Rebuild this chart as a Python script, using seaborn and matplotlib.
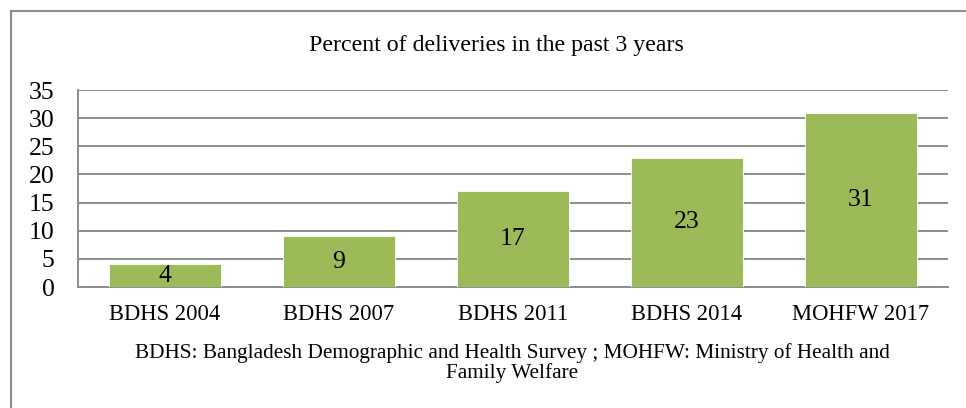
import matplotlib
matplotlib.use("Agg")
import matplotlib.pyplot as plt
import seaborn as sns
import pandas as pd
from matplotlib.patches import Rectangle

categories = ["BDHS 2004", "BDHS 2007", "BDHS 2011", "BDHS 2014", "MOHFW 2017"]
values = [4, 9, 17, 23, 31]
yticks = [0, 5, 10, 15, 20, 25, 30, 35]
title = "Percent of deliveries in the past 3 years"
footnote = ("BDHS: Bangladesh Demographic and Health Survey ; MOHFW: Ministry of Health and\n"
            "Family Welfare")

sns.set_theme(style="white")
plt.rcParams['font.family'] = ['Liberation Serif', 'DejaVu Serif']

W, H = 966, 408
fig = plt.figure(figsize=(W / 100, H / 100), dpi=100)
ax = fig.add_axes([78 / W, 1 - 287 / H, (948 - 78) / W, (287 - 90) / H])

df = pd.DataFrame({"cat": categories, "val": values})
sns.barplot(data=df, x="cat", y="val", ax=ax, color="#9BBB59", saturation=1,
            width=0.64, edgecolor="white", linewidth=0.6, zorder=3)

ax.set_xlim(-0.5, len(categories) - 0.5)
ax.set_ylim(0, 35)
ax.set_yticks(yticks)
ax.set_yticklabels([str(t) for t in yticks], fontsize=18.5, color="black")
ax.tick_params(axis="x", labelsize=16.3, colors="black", length=0, pad=12)
ax.tick_params(axis="y", length=0, pad=17)
ax.set_xlabel("")
ax.set_ylabel("")
ax.yaxis.grid(True, color="#8c8c8c", linewidth=1.4, zorder=0)
ax.set_axisbelow(True)
for s in ["top", "right"]:
    ax.spines[s].set_visible(False)
for s in ["left", "bottom"]:
    ax.spines[s].set_color("#8c8c8c")
    ax.spines[s].set_linewidth(1.4)

for i, v in enumerate(values):
    ax.text(i, v / 2, str(v), ha="center", va="center", fontsize=18.5, color="black", zorder=4)

fig.text(496 / W, 1 - 45 / H, title, ha="center", va="center", fontsize=17.2, color="black")
fig.text(512 / W, 1 - 363 / H, footnote, ha="center", va="center", fontsize=15.3,
         color="black", linespacing=0.97)

fig.patches.append(Rectangle((11 / W, -0.1), 1.1, 1 - 11 / H + 0.1, transform=fig.transFigure,
                             fill=False, edgecolor="#8c8c8c", linewidth=1.5))

fig.savefig("out.png", dpi=100)
